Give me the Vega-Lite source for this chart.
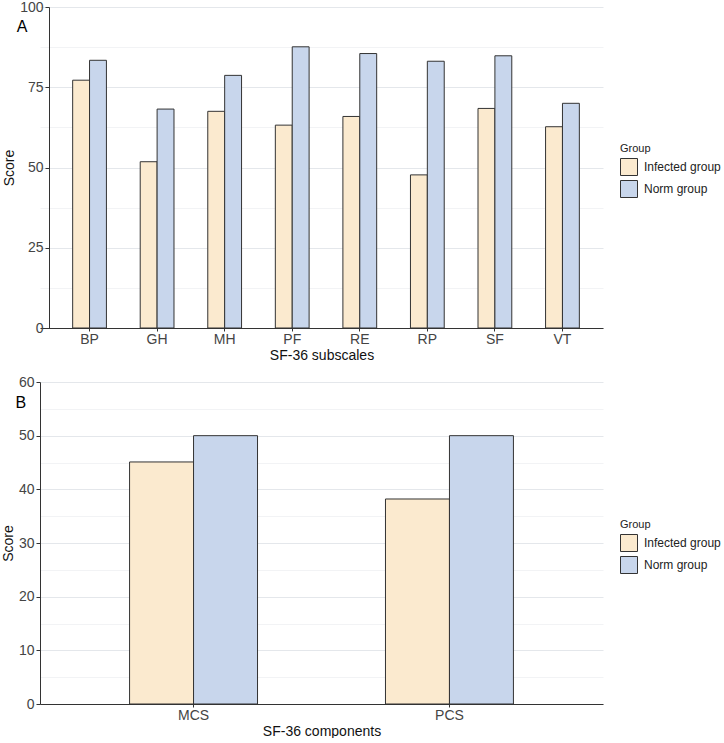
{
  "$schema": "https://vega.github.io/schema/vega-lite/v6.json",
  "padding": {"left": 1, "top": 0, "right": 0, "bottom": 0},
  "background": "#ffffff",
  "datasets": {
    "subscales": [
      {"Subscale": "BP", "Group": "Infected group", "Score": 77.2},
      {"Subscale": "BP", "Group": "Norm group", "Score": 83.4},
      {"Subscale": "GH", "Group": "Infected group", "Score": 51.8},
      {"Subscale": "GH", "Group": "Norm group", "Score": 68.2},
      {"Subscale": "MH", "Group": "Infected group", "Score": 67.5},
      {"Subscale": "MH", "Group": "Norm group", "Score": 78.7},
      {"Subscale": "PF", "Group": "Infected group", "Score": 63.2},
      {"Subscale": "PF", "Group": "Norm group", "Score": 87.6},
      {"Subscale": "RE", "Group": "Infected group", "Score": 65.9},
      {"Subscale": "RE", "Group": "Norm group", "Score": 85.5},
      {"Subscale": "RP", "Group": "Infected group", "Score": 47.7},
      {"Subscale": "RP", "Group": "Norm group", "Score": 83.1},
      {"Subscale": "SF", "Group": "Infected group", "Score": 68.4},
      {"Subscale": "SF", "Group": "Norm group", "Score": 84.8},
      {"Subscale": "VT", "Group": "Infected group", "Score": 62.7},
      {"Subscale": "VT", "Group": "Norm group", "Score": 70.0}
    ],
    "components": [
      {"Component": "MCS", "Group": "Infected group", "Score": 45.1},
      {"Component": "MCS", "Group": "Norm group", "Score": 50.0},
      {"Component": "PCS", "Group": "Infected group", "Score": 38.2},
      {"Component": "PCS", "Group": "Norm group", "Score": 50.0}
    ]
  },
  "config": {
    "font": "Liberation Sans",
    "view": {"stroke": null},
    "axis": {
      "labelFont": "Liberation Sans",
      "titleFont": "Liberation Sans",
      "labelFontSize": 14,
      "titleFontSize": 14,
      "titleFontWeight": "normal",
      "labelColor": "#444444",
      "titleColor": "#111111",
      "domainColor": "#333333",
      "tickColor": "#333333",
      "tickSize": 3,
      "labelPadding": 1
    },
    "axisY": {"tickSize": 4, "labelPadding": 2},
    "legend": {
      "labelFont": "Liberation Sans",
      "titleFont": "Liberation Sans",
      "labelFontSize": 12,
      "titleFontSize": 11,
      "titleFontWeight": "normal",
      "labelColor": "#222222",
      "titleColor": "#222222",
      "symbolType": "square",
      "symbolSize": 289,
      "symbolStrokeColor": "#333333",
      "symbolStrokeWidth": 1,
      "rowPadding": 0,
      "labelOffset": 6,
      "titlePadding": 4
    },
    "title": {"font": "Liberation Sans", "fontSize": 16, "fontWeight": "normal", "color": "#000000"}
  },
  "spacing": 13,
  "resolve": {
    "scale": {"xOffset": "independent", "color": "independent"},
    "legend": {"color": "independent"}
  },
  "vconcat": [
    {
      "width": 563,
      "height": 321,
      "data": {"name": "subscales"},
      "title": {"text": "A", "anchor": "start", "frame": "bounds", "offset": 0, "baseline": "alphabetic", "dx": 14, "dy": 48},
      "resolve": {"axis": {"y": "independent"}},
      "layer": [
        {
          "mark": {"type": "bar", "opacity": 0},
          "encoding": {
            "x": {"field": "Subscale", "type": "nominal", "scale": {"paddingInner": 0.5, "paddingOuter": 0.4167, "align": 0.58}, "axis": {"labelAngle": 0, "title": "SF-36 subscales", "titlePadding": 2, "grid": false}},
            "xOffset": {"field": "Group", "type": "nominal", "scale": {"paddingInner": 0, "paddingOuter": 0}},
            "y": {"field": "Score", "type": "quantitative", "scale": {"domain": [0, 100], "nice": false},
              "axis": {"orient": "right", "values": [12.5, 37.5, 62.5, 87.5], "grid": true, "gridColor": "#F2F3F5", "labels": false, "ticks": false, "domain": false, "title": null}}
          }
        },
        {
          "mark": {"type": "bar", "stroke": "#333333", "strokeWidth": 1},
          "encoding": {
            "x": {"field": "Subscale", "type": "nominal", "scale": {"paddingInner": 0.5, "paddingOuter": 0.4167, "align": 0.58}, "axis": {"labelAngle": 0, "title": "SF-36 subscales", "titlePadding": 2, "grid": false}},
            "xOffset": {"field": "Group", "type": "nominal", "scale": {"paddingInner": 0, "paddingOuter": 0}},
            "y": {"field": "Score", "type": "quantitative", "scale": {"domain": [0, 100], "nice": false},
              "axis": {"orient": "left", "offset": -9, "values": [0, 25, 50, 75, 100], "grid": true, "gridColor": "#E4E7EB", "title": "Score", "titlePadding": 3}},
            "color": {"field": "Group", "type": "nominal",
              "scale": {"domain": ["Infected group", "Norm group"], "range": ["#FBEACF", "#C8D6EC"]},
              "legend": {"title": "Group", "orient": "none", "legendX": 580, "legendY": 136}}
          }
        }
      ]
    },
    {
      "width": 563,
      "height": 322,
      "data": {"name": "components"},
      "title": {"text": "B", "anchor": "start", "frame": "bounds", "offset": 0, "baseline": "alphabetic", "dx": 14, "dy": 49},
      "resolve": {"axis": {"y": "independent"}},
      "layer": [
        {
          "mark": {"type": "bar", "opacity": 0},
          "encoding": {
            "x": {"field": "Component", "type": "nominal", "scale": {"paddingInner": 0.5, "paddingOuter": 0.35}, "axis": {"labelAngle": 0, "title": "SF-36 components", "titlePadding": 2, "grid": false}},
            "xOffset": {"field": "Group", "type": "nominal", "scale": {"paddingInner": 0, "paddingOuter": 0}},
            "y": {"field": "Score", "type": "quantitative", "scale": {"domain": [0, 60], "nice": false},
              "axis": {"orient": "right", "values": [5, 15, 25, 35, 45, 55], "grid": true, "gridColor": "#F2F3F5", "labels": false, "ticks": false, "domain": false, "title": null}}
          }
        },
        {
          "mark": {"type": "bar", "stroke": "#333333", "strokeWidth": 1},
          "encoding": {
            "x": {"field": "Component", "type": "nominal", "scale": {"paddingInner": 0.5, "paddingOuter": 0.35}, "axis": {"labelAngle": 0, "title": "SF-36 components", "titlePadding": 2, "grid": false}},
            "xOffset": {"field": "Group", "type": "nominal", "scale": {"paddingInner": 0, "paddingOuter": 0}},
            "y": {"field": "Score", "type": "quantitative", "scale": {"domain": [0, 60], "nice": false},
              "axis": {"orient": "left", "values": [0, 10, 20, 30, 40, 50, 60], "grid": true, "gridColor": "#E4E7EB", "title": "Score", "titlePadding": 3}},
            "color": {"field": "Group", "type": "nominal",
              "scale": {"domain": ["Infected group", "Norm group"], "range": ["#FBEACF", "#C8D6EC"]},
              "legend": {"title": "Group", "orient": "none", "legendX": 580, "legendY": 137}}
          }
        }
      ]
    }
  ]
}
